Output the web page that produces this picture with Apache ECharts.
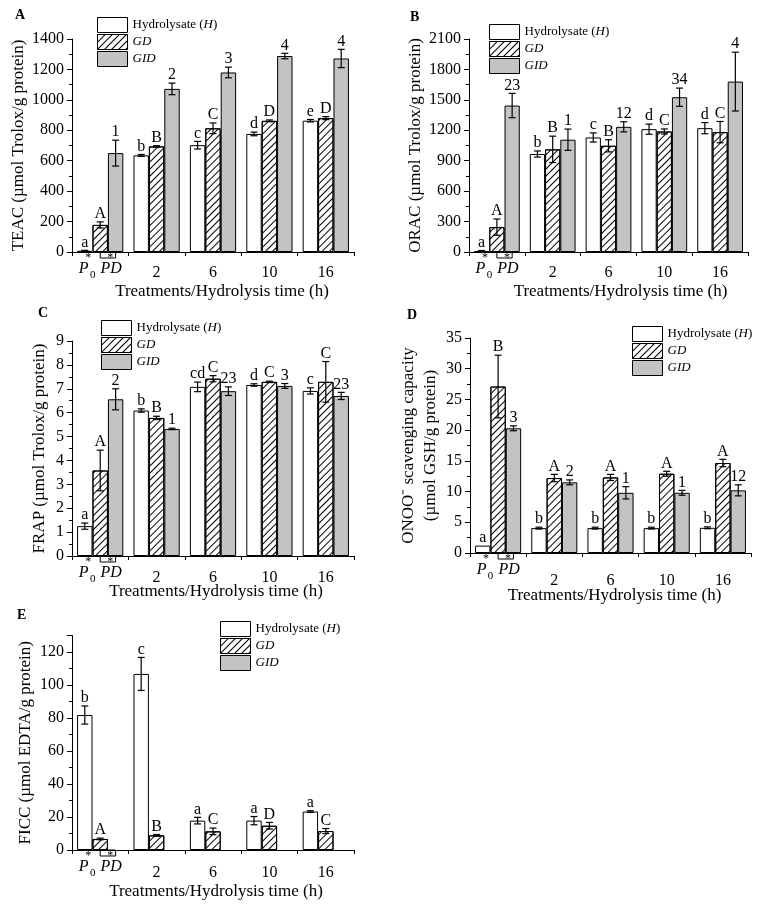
<!DOCTYPE html>
<html>
<head>
<meta charset="utf-8">
<title>Antioxidant activity of hydrolysates</title>
<script src="https://cdn.jsdelivr.net/npm/echarts@6/dist/echarts.min.js"></script>
<style>
  html, body { margin: 0; padding: 0; background: #fff; }
  #chart { width: 771px; height: 906px; }
</style>
</head>
<body>
<div id="chart"></div>
<script>
// x categories: first group holds the P0 / PD controls
const categories = ['P0/PD', '2', '6', '10', '16'];
const seriesNames = ['Hydrolysate (H)', 'GD', 'GID'];

// A - TEAC
const teacH = [8, 635, 702, 776, 863];
const teacHErr = [3, 6, 25, 12, 8];
const teacHSig = ['a', 'b', 'c', 'd', 'e'];
const teacGD = [178, 694, 813, 862, 880];
const teacGDErr = [20, 5, 35, 6, 10];
const teacGDSig = ['A', 'B', 'C', 'D', 'D'];
const teacGID = [650, 1072, 1180, 1288, 1272];
const teacGIDErr = [85, 38, 35, 18, 60];
const teacGIDSig = ['1', '2', '3', '4', '4'];

// B - ORAC
const oracH = [10, 966, 1129, 1211, 1221];
const oracHErr = [5, 30, 45, 50, 55];
const oracHSig = ['a', 'b', 'c', 'd', 'd'];
const oracGD = [245, 1012, 1047, 1188, 1182];
const oracGDErr = [80, 130, 60, 25, 105];
const oracGDSig = ['A', 'B', 'B', 'C', 'C'];
const oracGID = [1444, 1107, 1234, 1526, 1680];
const oracGIDErr = [120, 105, 50, 90, 290];
const oracGIDSig = ['23', '1', '12', '34', '4'];

// C - FRAP
const frapH = [1.25, 6.09, 7.08, 7.16, 6.91];
const frapHErr = [0.13, 0.07, 0.2, 0.05, 0.13];
const frapHSig = ['a', 'b', 'cd', 'd', 'c'];
const frapGD = [3.58, 5.78, 7.42, 7.29, 7.29];
const frapGDErr = [0.85, 0.07, 0.13, 0.03, 0.85];
const frapGDSig = ['A', 'B', 'C', 'C', 'C'];
const frapGID = [6.56, 5.32, 6.9, 7.12, 6.7];
const frapGIDErr = [0.44, 0.03, 0.18, 0.1, 0.15];
const frapGIDSig = ['2', '1', '23', '3', '23'];

// D - ONOO- scavenging
const onooH = [1.2, 4.05, 4.05, 4.05, 4.1];
const onooHErr = [0, 0.15, 0.15, 0.15, 0.15];
const onooHSig = ['a', 'b', 'b', 'b', 'b'];
const onooGD = [27.1, 12.2, 12.3, 12.9, 14.65];
const onooGDErr = [5.1, 0.6, 0.5, 0.4, 0.6];
const onooGDSig = ['B', 'A', 'A', 'A', 'A'];
const onooGID = [20.3, 11.5, 9.8, 9.8, 10.2];
const onooGIDErr = [0.4, 0.4, 1.0, 0.4, 0.9];
const onooGIDSig = ['3', '2', '1', '1', '12'];

// E - FICC (no GID values)
const ficcH = [81.8, 106.7, 17.8, 17.8, 23.3];
const ficcHErr = [5.5, 10, 2, 2.5, 0.5];
const ficcHSig = ['b', 'c', 'a', 'a', 'a'];
const ficcGD = [6.7, 8.9, 11.3, 14.7, 11.5];
const ficcGDErr = [0.5, 0.5, 2, 2, 1.5];
const ficcGDSig = ['A', 'B', 'C', 'D', 'C'];
const ficcGID = [null, null, null, null, null];
const ficcGIDErr = [0, 0, 0, 0, 0];
const ficcGIDSig = ['', '', '', '', ''];

const FONT = 'Liberation Serif';
const GAP = 0.18;

const panels = [
  { tag: 'A', sets: [[teacH, teacHErr, teacHSig], [teacGD, teacGDErr, teacGDSig], [teacGID, teacGIDErr, teacGIDSig]],
    yName: 'TEAC (µmol Trolox/g protein)', max: 1400, interval: 200,
    grid: { left: 72, top: 39, width: 282, height: 213 }, legend: { left: 97, top: 17 }, title: { left: 15, top: 8 },
    yGap: 42, xGap: 31, xShift: 9, numLH: 22 },
  { tag: 'B', sets: [[oracH, oracHErr, oracHSig], [oracGD, oracGDErr, oracGDSig], [oracGID, oracGIDErr, oracGIDSig]],
    yName: 'ORAC (µmol Trolox/g protein)', max: 2100, interval: 300,
    grid: { left: 469, top: 39, width: 279, height: 213 }, legend: { left: 489, top: 24 }, title: { left: 410, top: 10 },
    yGap: 42, xGap: 31, xShift: 12, numLH: 21 },
  { tag: 'C', sets: [[frapH, frapHErr, frapHSig], [frapGD, frapGDErr, frapGDSig], [frapGID, frapGIDErr, frapGIDSig]],
    yName: 'FRAP (µmol Trolox/g protein)', max: 9, interval: 1,
    grid: { left: 72, top: 341, width: 282, height: 215 }, legend: { left: 101, top: 320 }, title: { left: 38, top: 306 },
    yGap: 21, xGap: 27, xShift: 3, numLH: 24 },
  { tag: 'D', sets: [[onooH, onooHErr, onooHSig], [onooGD, onooGDErr, onooGDSig], [onooGID, onooGIDErr, onooGIDSig]],
    yName: 'ONOO\u207B scavenging capacity\n(µmol GSH/g protein)', max: 35, interval: 5,
    grid: { left: 470, top: 338, width: 281, height: 215 }, legend: { left: 632, top: 326 }, title: { left: 407, top: 308 },
    yGap: 28, xGap: 34, xShift: 4, numLH: 36 },
  { tag: 'E', sets: [[ficcH, ficcHErr, ficcHSig], [ficcGD, ficcGDErr, ficcGDSig], [ficcGID, ficcGIDErr, ficcGIDSig]],
    yName: 'FICC (µmol EDTA/g protein)', max: 130, interval: 20,
    grid: { left: 72, top: 635.5, width: 282, height: 214.5 }, legend: { left: 220, top: 621 }, title: { left: 17, top: 608 },
    yGap: 35, xGap: 33, xShift: 3, numLH: 25 }
];

const barStyles = [
  { color: '#ffffff', borderColor: '#000', borderWidth: 1 },
  { color: '#ffffff', borderColor: '#000', borderWidth: 1,
    decal: { symbol: 'rect', symbolSize: 1, color: '#000', dashArrayX: [1, 0], dashArrayY: [0.9, 3.6], rotation: -Math.PI / 4 } },
  { color: '#c3c3c3', borderColor: '#000', borderWidth: 1 }
];

function catLabel(value, index) {
  if (index === 0) return '{s1|*}{s2|*}\n{p|P}{sub|0}{sp| }{d|PD}';
  return '{e| }\n{n|' + value + '}';
}

function barX(api, cat, g) {
  const cw = api.size([1, 0])[0];
  const bw = cw * (1 - GAP) / 3;
  return { x: api.coord([cat, 0])[0] + (g - 1) * bw, bw: bw };
}

function makeRender(rows) {
  return function (params, api) {
    const r = rows[params.dataIndex];
    const x = barX(api, r.cat, r.g).x;
    const yTop = api.coord([r.cat, r.v + r.e])[1];
    const yBot = api.coord([r.cat, r.v - r.e])[1];
    const ls = { stroke: '#000', lineWidth: 1.2 };
    const kids = [];
    if (r.e > 0) {
      kids.push({ type: 'line', shape: { x1: x, y1: yTop, x2: x, y2: yBot }, style: ls });
      kids.push({ type: 'line', shape: { x1: x - 3.5, y1: yTop, x2: x + 3.5, y2: yTop }, style: ls });
      kids.push({ type: 'line', shape: { x1: x - 3.5, y1: yBot, x2: x + 3.5, y2: yBot }, style: ls });
    }
    kids.push({
      type: 'text', x: x, y: yTop,
      style: { text: r.sig, fill: '#000', font: '16px "Liberation Serif"', align: 'center', verticalAlign: 'bottom' }
    });
    return { type: 'group', children: kids };
  };
}

// small open box drawn under PD on the original figure
function renderBox(params, api) {
  const b = barX(api, 0, 1);
  const y0 = api.coord([0, 0])[1];
  return { type: 'rect', shape: { x: b.x, y: y0, width: b.bw, height: 6 },
    style: { fill: '#fff', stroke: '#000', lineWidth: 1 } };
}

const legendRich = {
  r: { fontFamily: FONT, fontSize: 13, color: '#000' },
  i: { fontFamily: FONT, fontSize: 13, fontStyle: 'italic', color: '#000' }
};
function legendFmt(name) {
  if (name === 'Hydrolysate (H)') return '{r|Hydrolysate (}{i|H}{r|)}';
  return '{i|' + name + '}';
}

const option = {
  animation: false,
  backgroundColor: '#fff',
  title: [], grid: [], xAxis: [], yAxis: [], legend: [], series: []
};

panels.forEach(function (p, k) {
  option.title.push({ text: p.tag, left: p.title.left, top: p.title.top, padding: 0,
    textStyle: { fontFamily: FONT, fontSize: 14, fontWeight: 'bold', color: '#000' } });
  option.grid.push(Object.assign({ outerBoundsMode: 'none', containLabel: false }, p.grid));
  option.xAxis.push({
    type: 'category', gridIndex: k, data: categories, boundaryGap: true, z: 3,
    axisLine: { show: true, lineStyle: { color: '#000', width: 1 } },
    axisTick: { show: true, length: 4, alignWithLabel: false, lineStyle: { color: '#000' } },
    axisLabel: {
      interval: 0, margin: 2, color: '#000', formatter: catLabel,
      rich: {
        s1: { width: 20, align: 'center', fontFamily: FONT, fontSize: 12, lineHeight: 8, color: '#000' },
        s2: { width: 24, align: 'center', fontFamily: FONT, fontSize: 12, lineHeight: 8, color: '#000' },
        p: { width: 11, align: 'center', fontFamily: FONT, fontSize: 16, fontStyle: 'italic', lineHeight: 14, color: '#000' },
        sub: { width: 7, align: 'center', fontFamily: FONT, fontSize: 11, lineHeight: 14, padding: [12, 0, 0, 0], color: '#000' },
        sp: { width: 4, align: 'center', fontFamily: FONT, fontSize: 8, lineHeight: 14 },
        d: { width: 22, align: 'center', fontFamily: FONT, fontSize: 16, fontStyle: 'italic', lineHeight: 14, color: '#000' },
        e: { fontFamily: FONT, fontSize: 8, lineHeight: 8 },
        n: { fontFamily: FONT, fontSize: 16, lineHeight: p.numLH, color: '#000' }
      }
    },
    name: 'Treatments/Hydrolysis time (h)', nameLocation: 'middle', nameGap: p.xGap, nameMoveOverlap: false,
    nameTextStyle: { fontFamily: FONT, fontSize: 17, color: '#000', padding: [0, 0, 0, p.xShift * 2] }
  });
  option.yAxis.push({
    type: 'value', gridIndex: k, min: 0, max: p.max, interval: p.interval,
    axisLine: { show: true, lineStyle: { color: '#000', width: 1 } },
    axisTick: { show: true, length: 5, lineStyle: { color: '#000' } },
    minorTick: { show: true, splitNumber: 2, length: 3, lineStyle: { color: '#000' } },
    splitLine: { show: false },
    axisLabel: { fontFamily: FONT, fontSize: 16, color: '#000', margin: 8, showMaxLabel: p.max % p.interval === 0,
      formatter: function (v) { return String(v); } },
    name: p.yName, nameLocation: 'middle', nameGap: p.yGap, nameMoveOverlap: false,
    nameTextStyle: { fontFamily: FONT, fontSize: 17, color: '#000', lineHeight: 22 }
  });
  option.legend.push({
    orient: 'vertical', left: p.legend.left, top: p.legend.top, padding: 0,
    itemWidth: 30, itemHeight: 15, itemGap: 1, icon: 'rect', selectedMode: false,
    data: seriesNames, formatter: legendFmt,
    itemStyle: { borderColor: '#000', borderWidth: 1 },
    textStyle: { fontFamily: FONT, fontSize: 13, color: '#000', rich: legendRich }
  });

  const rows = [];
  p.sets.forEach(function (set, g) {
    option.series.push({
      type: 'bar', name: seriesNames[g], xAxisIndex: k, yAxisIndex: k,
      data: set[0], barGap: '0%', barCategoryGap: (GAP * 100) + '%',
      itemStyle: barStyles[g], silent: true
    });
    set[0].forEach(function (v, i) {
      if (v == null) return;
      rows.push({ cat: i, g: g, v: v, e: set[1][i], sig: set[2][i] });
    });
  });
  option.series.push({
    type: 'custom', xAxisIndex: k, yAxisIndex: k, silent: true, z: 1, clip: false,
    data: [[0, 0]], renderItem: renderBox
  });
  option.series.push({
    type: 'custom', xAxisIndex: k, yAxisIndex: k, silent: true, z: 5, clip: false,
    encode: { x: 0, y: 2 },
    data: rows.map(function (r) { return [r.cat, r.g, r.v, r.e]; }),
    renderItem: makeRender(rows)
  });
});

const chart = echarts.init(document.getElementById('chart'));
chart.setOption(option);
</script>
</body>
</html>
